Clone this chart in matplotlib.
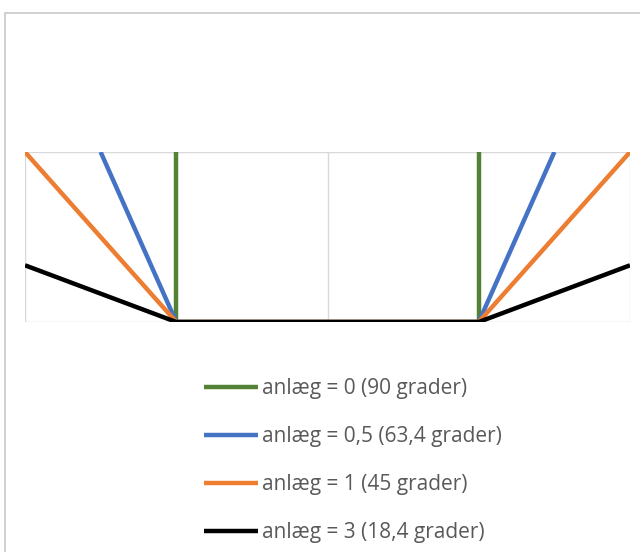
import matplotlib.pyplot as plt
from matplotlib.patches import Rectangle

# Tværsnit af kanal: bundbredde 4, dybde 2, forskellige anlæg på skråningerne
x_anlaeg_0 = [2, 2, 6, 6]
y_anlaeg_0 = [2, 0, 0, 2]
x_anlaeg_05 = [1, 2, 6, 7]
y_anlaeg_05 = [2, 0, 0, 2]
x_anlaeg_1 = [0, 2, 6, 8]
y_anlaeg_1 = [2, 0, 0, 2]
x_anlaeg_3 = [0, 2, 6, 8]
y_anlaeg_3 = [0.667, 0, 0, 0.667]

etiketter = ['anlæg = 0 (90 grader)', 'anlæg = 0,5 (63,4 grader)',
             'anlæg = 1 (45 grader)', 'anlæg = 3 (18,4 grader)']
farver = ['#548235', '#4472c4', '#ed7d31', '#000000']

plt.rcParams['font.family'] = ['Open Sans', 'DejaVu Sans']

fig = plt.figure(figsize=(6.4, 5.52), dpi=100)

# grå ramme om diagrammet
fig.patches.append(Rectangle((5 / 640, -0.1), 1.2, 1 - 13 / 552 + 0.1,
                             transform=fig.transFigure, fill=False,
                             edgecolor='#c8c8c8', linewidth=1.2))

ax = fig.add_axes([25 / 640, 1 - 322 / 552, 605 / 640, 170 / 552])

serier = [(x_anlaeg_0, y_anlaeg_0), (x_anlaeg_05, y_anlaeg_05),
          (x_anlaeg_1, y_anlaeg_1), (x_anlaeg_3, y_anlaeg_3)]
for (xs, ys), farve, navn in zip(serier, farver, etiketter):
    ax.plot(xs, ys, color=farve, linewidth=3.2, label=navn,
            solid_capstyle='butt')

ax.set_xlim(0, 8)
ax.set_ylim(0, 2)
ax.set_xticks([0, 2, 4, 6, 8])
ax.set_yticks([0, 2])
ax.grid(True, color='#d9d9d9', linewidth=1)
ax.set_axisbelow(True)
ax.tick_params(length=0, labelbottom=False, labelleft=False)
for s in ax.spines.values():
    s.set_visible(False)

fig.legend(loc='upper left', bbox_to_anchor=(204 / 640, 1 - 378 / 552),
           frameon=False, fontsize=15, labelcolor='#595959',
           handlelength=2.6, handletextpad=0.18, labelspacing=1.3,
           borderpad=0, borderaxespad=0)

fig.savefig('out.png', dpi=100)
